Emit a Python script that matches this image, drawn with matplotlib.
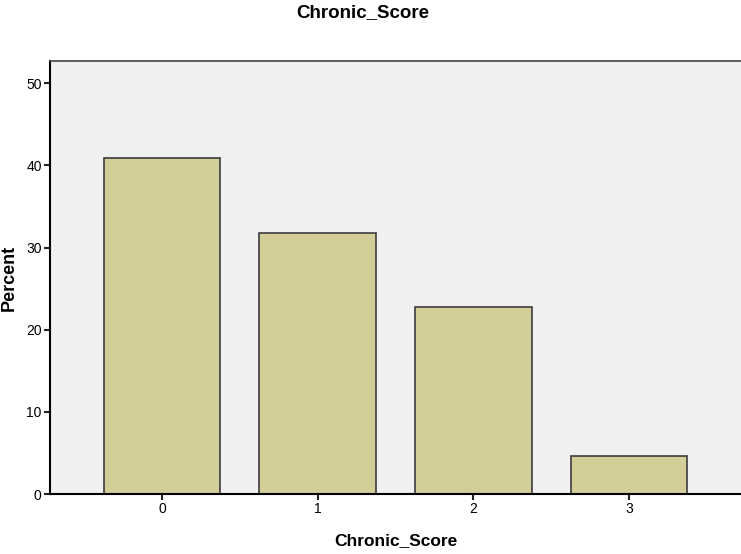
import matplotlib
matplotlib.use("Agg")
import matplotlib.pyplot as plt

plt.rcParams['font.family'] = ['Liberation Sans', 'DejaVu Sans']

# Chronic_Score frequency distribution (percent)
categories = ['0', '1', '2', '3']
percent = [40.9, 31.8, 22.7, 4.6]
yticks = [0, 10, 20, 30, 40, 50]

fig = plt.figure(figsize=(7.41, 5.54), dpi=100)
ax = fig.add_axes([50/741, 60/554, 1 - 50/741, (494-61)/554])
ax.set_facecolor('#f0f0f0')

x = range(len(categories))
ax.bar(x, percent, width=0.75, color='#d3ce97', edgecolor='#3c3c3c', linewidth=1.2, zorder=2)

ax.set_xlim(-0.72, 3.72)
ax.set_ylim(0, 52.7)
ax.set_xticks(list(x))
ax.set_xticklabels(categories)
ax.set_yticks(yticks)
ax.tick_params(axis='both', labelsize=10, length=4, width=1.5, color='#222222', pad=2)

ax.spines['top'].set_color('#444444')
ax.spines['top'].set_linewidth(1.2)
ax.spines['left'].set_linewidth(1.5)
ax.spines['bottom'].set_linewidth(1.5)
ax.spines['right'].set_visible(False)

fig.text(363/741, 1 - 13/554, 'Chronic_Score', ha='center', va='center', fontsize=13.5, fontweight='bold')
fig.text(396/741, 1 - 541/554, 'Chronic_Score', ha='center', va='center', fontsize=12.5, fontweight='bold')
fig.text(9/741, 1 - 278/554, 'Percent', ha='center', va='center', rotation=90, fontsize=13, fontweight='bold')

fig.savefig('out.png', dpi=100)
